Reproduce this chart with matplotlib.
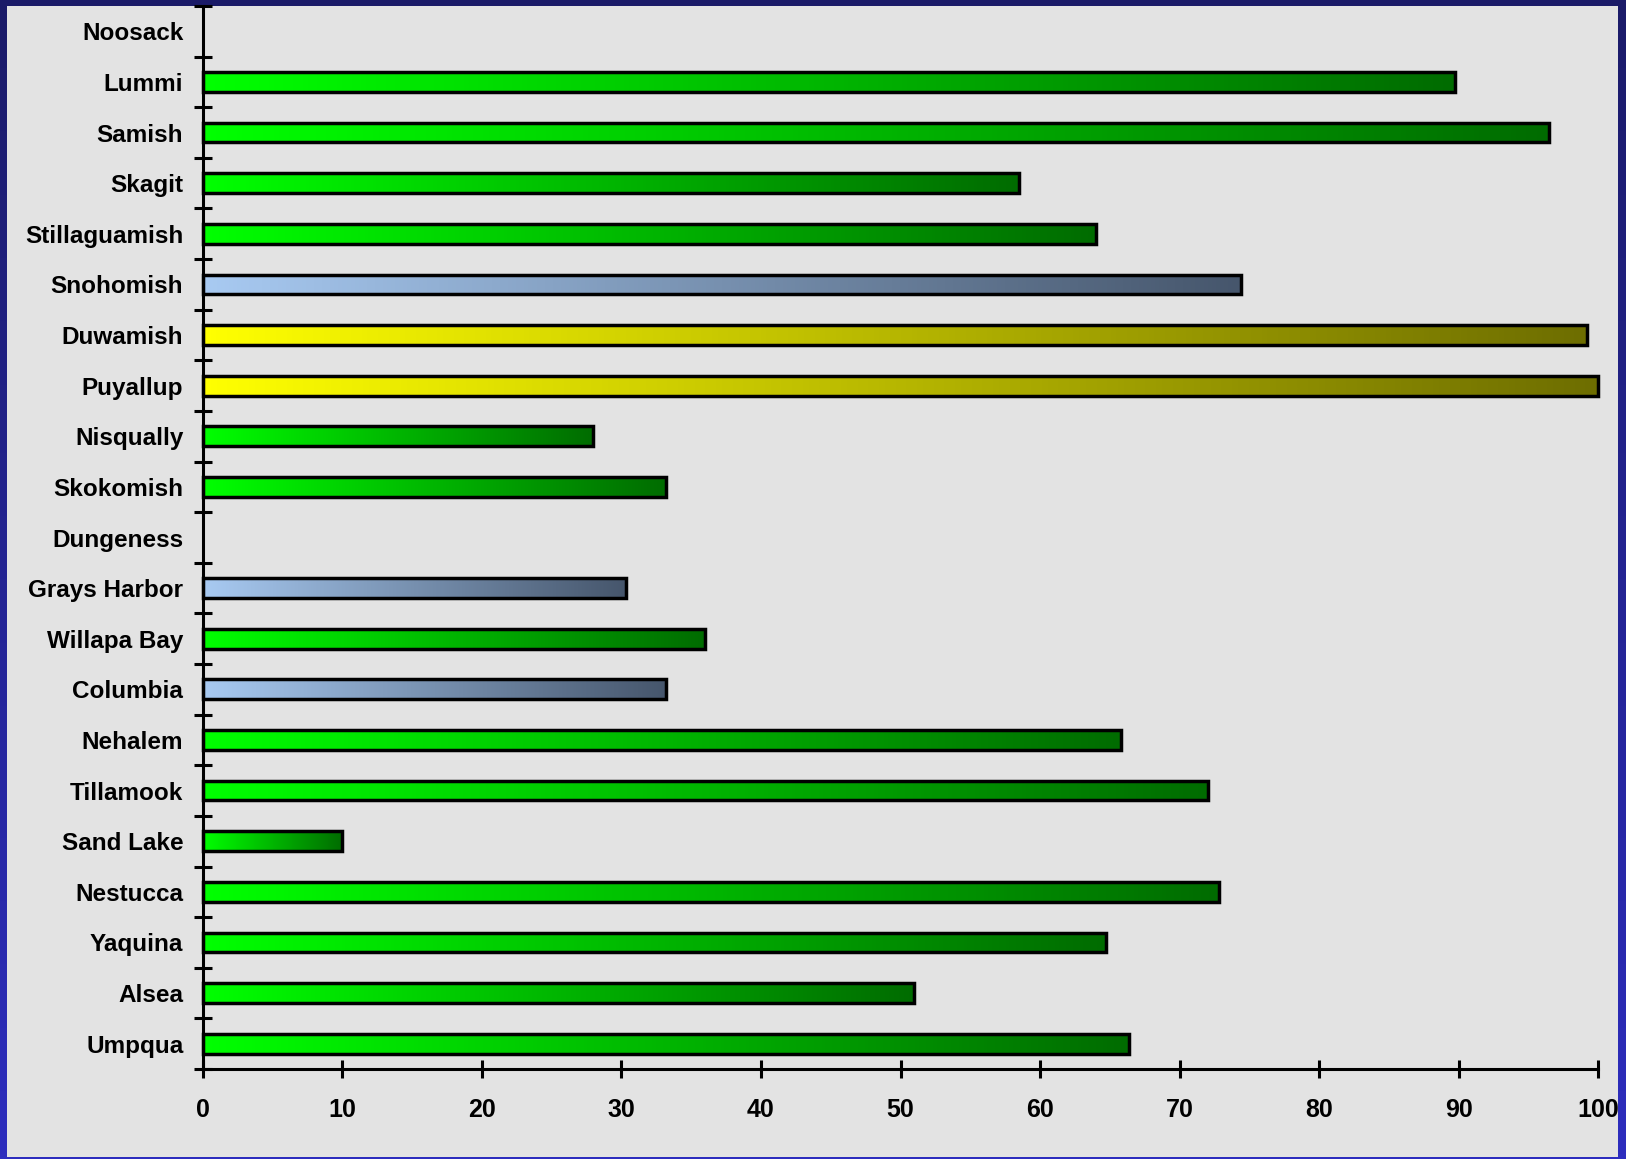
import numpy as np
import matplotlib.pyplot as plt
from matplotlib.colors import LinearSegmentedColormap
from matplotlib.patches import Rectangle

# rivers listed top to bottom
rivers = ["Noosack", "Lummi", "Samish", "Skagit", "Stillaguamish", "Snohomish",
          "Duwamish", "Puyallup", "Nisqually", "Skokomish", "Dungeness",
          "Grays Harbor", "Willapa Bay", "Columbia", "Nehalem", "Tillamook",
          "Sand Lake", "Nestucca", "Yaquina", "Alsea", "Umpqua"]
values = [0, 89.7, 96.5, 58.5, 64.0, 74.4, 99.2, 100, 28.0, 33.2, 0,
          30.3, 36.0, 33.2, 65.8, 72.0, 10.0, 72.8, 64.7, 51.0, 66.4]
groups = ["green", "green", "green", "green", "green", "blue",
          "yellow", "yellow", "green", "green", "green",
          "blue", "green", "blue", "green", "green",
          "green", "green", "green", "green", "green"]

ramps = {
    "green": ("#00ff00", "#006c00"),
    "yellow": ("#ffff00", "#6e6e00"),
    "blue": ("#a8caf2", "#46566c"),
}
cmaps = {k: LinearSegmentedColormap.from_list(k, list(v)) for k, v in ramps.items()}

plt.rcParams['font.family'] = ['Liberation Sans', 'DejaVu Sans']
plt.rcParams['font.weight'] = 'bold'

fig = plt.figure(figsize=(16.26, 11.59), dpi=100)

# navy frame with a slight vertical shading, grey panel on top
bg = fig.add_axes([0, 0, 1, 1], zorder=-10)
shade = np.linspace(0, 1, 256)[:, None]
bg.imshow(shade, cmap=LinearSegmentedColormap.from_list("frame", ["#1b1b68", "#2d2dbe"]),
          aspect='auto', extent=(0, 1, 1, 0))
bg.add_patch(Rectangle((7 / 1626, 2 / 1159), (1618 - 7) / 1626, (1153 - 2) / 1159,
                       facecolor="#e3e3e3", edgecolor="none", transform=bg.transAxes))
bg.set_xlim(0, 1)
bg.set_ylim(1, 0)
bg.axis('off')

ax = fig.add_axes([202.7 / 1626, 1 - 1069 / 1159, (1598.3 - 202.7) / 1626, (1069 - 6) / 1159])
ax.set_facecolor("none")

n = len(rivers)
ypos = np.arange(n)[::-1] + 0.5
h = 0.39
grad = np.linspace(0, 1, 256)[None, :]

for y, v, g in zip(ypos, values, groups):
    if v <= 0:
        continue
    ax.imshow(grad, cmap=cmaps[g], aspect='auto', extent=(0, v, y - h / 2, y + h / 2),
              zorder=2, interpolation='bilinear')
    ax.add_patch(Rectangle((0, y - h / 2), v, h, facecolor='none', edgecolor='black',
                           linewidth=2.5, zorder=3, clip_on=False))

ax.set_xlim(0, 100)
ax.set_ylim(0, n)

ax.set_xticks(np.arange(0, 101, 10))
ax.set_yticks(np.arange(0, n + 1))
ax.set_yticklabels([])
ax.set_yticks(ypos, minor=True)
ax.set_yticklabels(rivers, minor=True)

ax.tick_params(axis='y', which='major', direction='inout', length=13.5, width=2.2, color='black')
ax.tick_params(axis='y', which='minor', length=0, pad=14, labelsize=17.5)
ax.tick_params(axis='x', direction='inout', length=13.5, width=2.2, pad=14, labelsize=18)

for side in ("top", "right"):
    ax.spines[side].set_visible(False)
for side in ("left", "bottom"):
    ax.spines[side].set_linewidth(2.2)
    ax.spines[side].set_color('black')

fig.savefig("out.png", dpi=100)
